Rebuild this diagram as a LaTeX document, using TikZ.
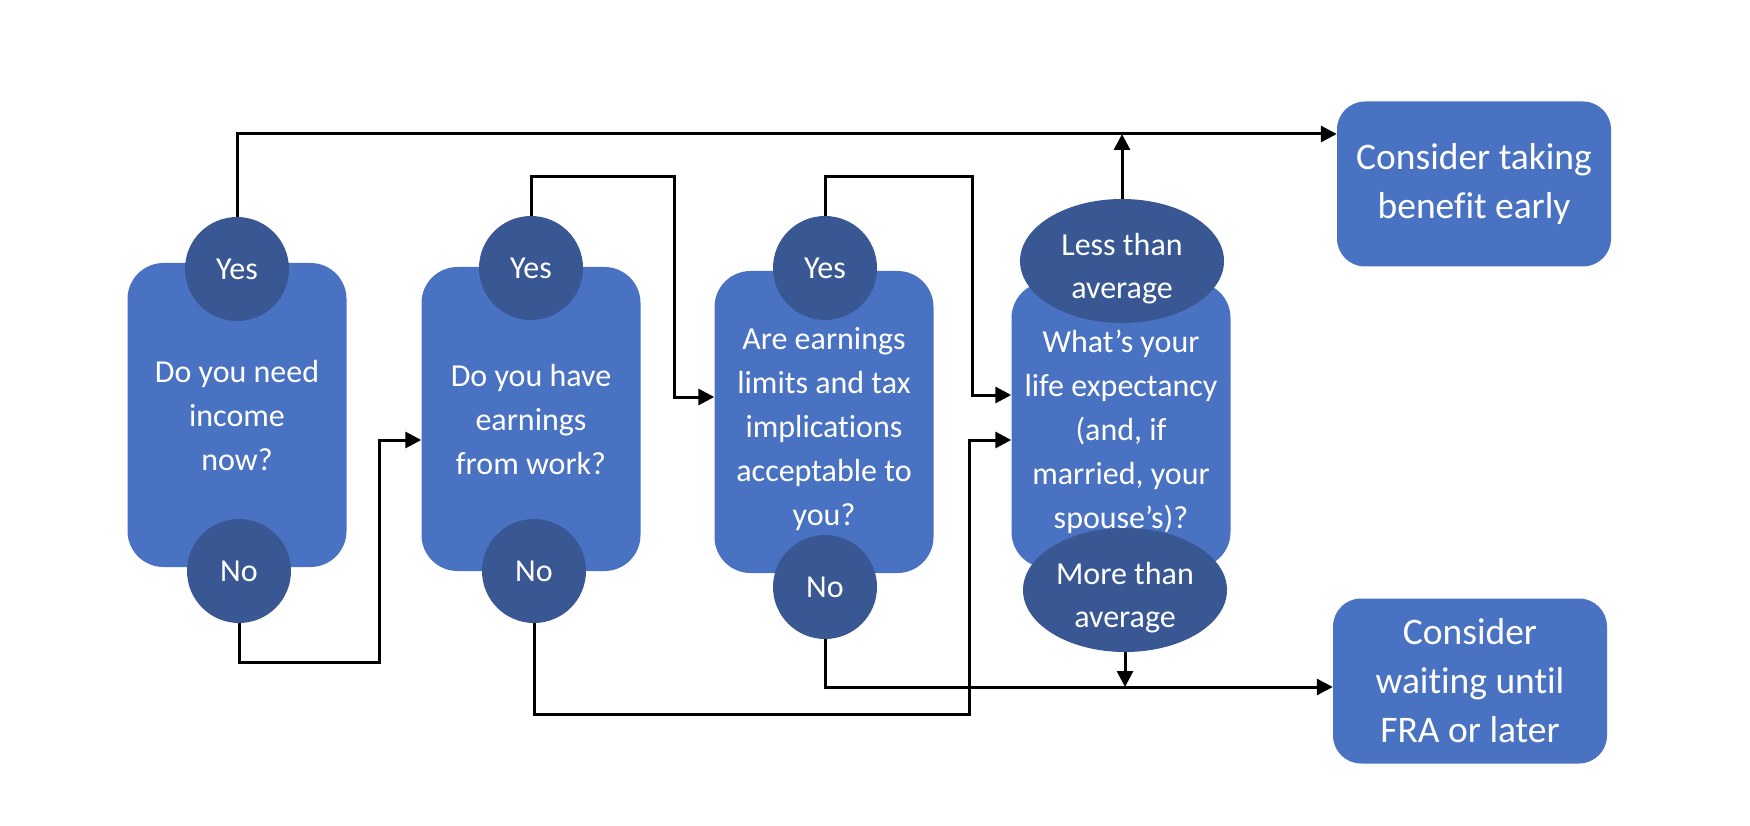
\documentclass[tikz,border=0pt]{standalone}
\usepackage{fontspec}
\setmainfont[RawFeature={-liga;-clig;-calt}]{Carlito}
\usetikzlibrary{arrows.meta, shapes.geometric, calc}
\definecolor{boxblue}{HTML}{4A72C2}
\definecolor{ansblue}{HTML}{385793}
\newcommand{\dropline}{\rule{0pt}{37pt}}

\tikzset{
  qbox/.style={fill=boxblue, rounded corners=36pt, minimum width=219pt, inner sep=0pt,
    text=white, align=center, font=\fontsize{32}{44}\selectfont},
  ans/.style={circle, fill=ansblue, minimum size=104pt, inner sep=0pt,
    text=white, font=\fontsize{32}{43}\selectfont},
  lifeans/.style={ellipse, fill=ansblue, minimum width=204pt, minimum height=124pt, inner sep=0pt,
    text=white, align=center, font=\fontsize{32}{43}\selectfont},
  endbox/.style={fill=boxblue, rounded corners=28pt, minimum width=274pt, minimum height=165pt,
    inner sep=0pt, text=white, align=center, font=\fontsize{37.5}{49}\selectfont},
  flow/.style={line width=3pt, -{Triangle[length=16pt,width=16pt]}}
}

\begin{document}
\begin{tikzpicture}[x=1pt, y=-1pt]
  \useasboundingbox (0,0) rectangle (1750,826);
  % Fragen
  \node[qbox, minimum height=304pt] (need) at (237,415) {Do you need\\income\\now?};
  \node[qbox, minimum height=304pt] (work) at (531,419) {Do you have\\earnings\\from work?};
  \node[qbox, minimum height=302pt] (lim) at (824,422) {\dropline Are earnings\\limits and tax\\implications\\acceptable to\\you?};
  \node[qbox, minimum height=286pt] (life) at (1121,425) {\dropline What’s your\\life expectancy\\(and, if\\married, your\\spouse’s)?};
  % Antworten
  \node[ans] (yes1) at (237,269) {Yes};
  \node[ans] (no1) at (239,571) {No};
  \node[ans] (yes2) at (531,268) {Yes};
  \node[ans] (no2) at (534,571) {No};
  \node[ans] (yes3) at (825,268) {Yes};
  \node[ans] (no3) at (825,587) {No};
  \node[lifeans] (less) at (1122,261) {\dropline Less than\\average};
  \node[lifeans] (more) at (1125,590) {\dropline More than\\average};
  % Ergebnis
  \node[endbox] (early) at (1474,184) {Consider taking\\benefit early};
  \node[endbox] (wait) at (1470,681) {Consider\\waiting until\\FRA or later};
  % Wege
  \coordinate (toprail) at (0,134);
  \coordinate (botrail) at (0,687);
  \coordinate (hop1) at (379,662);
  \coordinate (in2) at (0,440);
  \coordinate (hop2) at (674,177);
  \coordinate (in3) at (0,397);
  \coordinate (hop3) at (972,177);
  \coordinate (in4a) at (0,395);
  \coordinate (hop4) at (969,714);
  \coordinate (in4b) at (0,440);
  \draw[flow] (yes1.north) |- (early.west |- toprail);
  \draw[flow] (no1.south) |- (hop1) |- (work.west |- in2);
  \draw[flow] (yes2.north) |- (hop2) |- (lim.west |- in3);
  \draw[flow] (no2.south) |- (hop4) |- (life.west |- in4b);
  \draw[flow] (yes3.north) |- (hop3) |- (life.west |- in4a);
  \draw[flow] (no3.south) |- (wait.west |- botrail);
  \draw[flow] (less.north) -- (less.north |- toprail);
  \draw[flow] (more.south) -- (more.south |- botrail);
\end{tikzpicture}
\end{document}
